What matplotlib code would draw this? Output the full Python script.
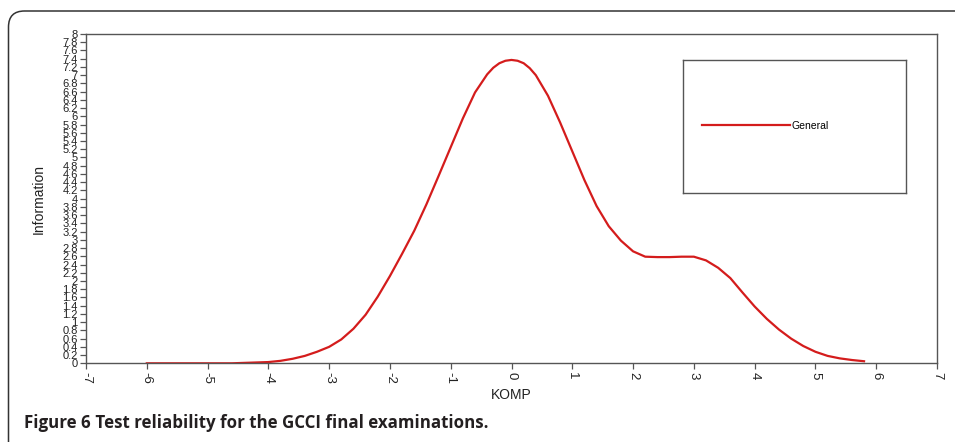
import matplotlib
matplotlib.use("Agg")
import matplotlib.pyplot as plt
from matplotlib.patches import FancyBboxPatch
import numpy as np

# ---- data ----
komp = [-6.0, -5.8, -5.6, -5.4, -5.2, -5.0, -4.8, -4.6, -4.4, -4.2, -4.0,
        -3.8, -3.6, -3.4, -3.2, -3.0, -2.8, -2.6, -2.4, -2.2, -2.0,
        -1.8, -1.6, -1.4, -1.2, -1.0, -0.8, -0.6, -0.4, -0.3, -0.2, -0.1, 0.0,
        0.1, 0.2, 0.3, 0.4, 0.6, 0.8, 1.0, 1.2, 1.4, 1.6, 1.8, 2.0,
        2.2, 2.4, 2.6, 2.8, 3.0, 3.2, 3.4, 3.6, 3.8, 4.0,
        4.2, 4.4, 4.6, 4.8, 5.0, 5.2, 5.4, 5.6, 5.8]
information = [0.00, 0.00, 0.00, 0.00, 0.00, 0.00, 0.00, 0.00, 0.01, 0.02, 0.03,
               0.06, 0.11, 0.18, 0.28, 0.40, 0.58, 0.84, 1.18, 1.62, 2.12,
               2.66, 3.22, 3.86, 4.55, 5.25, 5.95, 6.58, 7.02, 7.18, 7.29, 7.35, 7.37,
               7.35, 7.29, 7.17, 7.00, 6.50, 5.85, 5.15, 4.45, 3.82, 3.33, 2.98, 2.72,
               2.59, 2.58, 2.58, 2.59, 2.59, 2.50, 2.32, 2.07, 1.72, 1.38,
               1.08, 0.82, 0.60, 0.42, 0.28, 0.18, 0.12, 0.08, 0.05]
series_name = "General"
x_ticks = list(range(-7, 8))
y_ticks = [round(0.2 * i, 1) for i in range(41)]
x_label = "KOMP"
y_label = "Information"
caption_bold = "Figure 6"
caption_text = " Test reliability for the GCCI final examinations."

W, H = 955, 442
fig = plt.figure(figsize=(W / 100, H / 100), dpi=100)
plt.rcParams['font.family'] = ['Liberation Sans', 'DejaVu Sans']

def px(x0, y0, x1, y1):
    return [x0 / W, 1 - y1 / H, (x1 - x0) / W, (y1 - y0) / H]

# outer rounded panel border
border = FancyBboxPatch((0.085, -0.5), 10.0, 4.42 - 0.11 + 0.5,
                        boxstyle="round,pad=0,rounding_size=0.16",
                        transform=fig.dpi_scale_trans, fill=False,
                        edgecolor="#333333", linewidth=1.1)
fig.patches.append(border)

ax = fig.add_axes(px(86, 34, 937, 363.3))
(line,) = ax.plot(komp, information, color="#d41c1c", linewidth=1.6,
                  label=series_name, solid_joinstyle="round")
ax.set_xlim(-7, 7)
ax.set_ylim(0, 8)
ax.set_xticks(x_ticks)
ax.set_xticklabels([str(t) for t in x_ticks], rotation=270, fontsize=9.5,
                   color="#222222")
ax.set_yticks(y_ticks)
ax.set_yticklabels([("%g" % t) for t in y_ticks], fontsize=8,
                   color="#222222")
ax.tick_params(axis="both", direction="out", length=4, width=0.9,
               color="#555555", pad=2)
for s in ax.spines.values():
    s.set_color("#555555")
    s.set_linewidth(1.0)
ax.set_xlabel(x_label, fontsize=10, color="#222222", labelpad=3)
ax.set_ylabel(y_label, fontsize=10, color="#222222", labelpad=4)
ax.yaxis.set_label_coords(-40 / 851, 0.5)

# legend box
lax = fig.add_axes(px(683.3, 60, 905.7, 193.3))
lax.set_xticks([])
lax.set_yticks([])
for s in lax.spines.values():
    s.set_color("#555555")
    s.set_linewidth(1.0)
lax.patch.set_facecolor("white")
fs = 7.5
em = fs * 100 / 72
lax.legend(handles=[line], labels=[series_name], loc="center left",
           bbox_to_anchor=((701.7 - 683.3) / 222.4, 1 - (126 - 60) / 133.3),
           frameon=False, fontsize=fs, handlelength=(790 - 701.7) / em,
           handletextpad=0.15, borderpad=0, borderaxespad=0)

# caption
renderer = fig.canvas.get_renderer()
t1 = fig.text(24 / W, 1 - 423 / H, caption_bold, fontsize=13, fontweight="bold",
              family=["Open Sans", "DejaVu Sans"], va="center", ha="left",
              color="#231f20")
bb = t1.get_window_extent(renderer)
t2 = fig.text(bb.x1 / W, 1 - 423 / H, caption_text, fontsize=13,
              fontweight="bold", family=["Open Sans", "DejaVu Sans"],
              va="center", ha="left", color="#231f20")
# fit total caption width to reference (~458 px)
bb2 = t2.get_window_extent(renderer)
scale = (482 - 24) / (bb2.x1 - bb.x0)
t1.set_fontsize(13 * scale)
bb = t1.get_window_extent(renderer)
t2.set_fontsize(13 * scale)
t2.set_x(bb.x1 / W)

fig.savefig("out.png", dpi=100)
